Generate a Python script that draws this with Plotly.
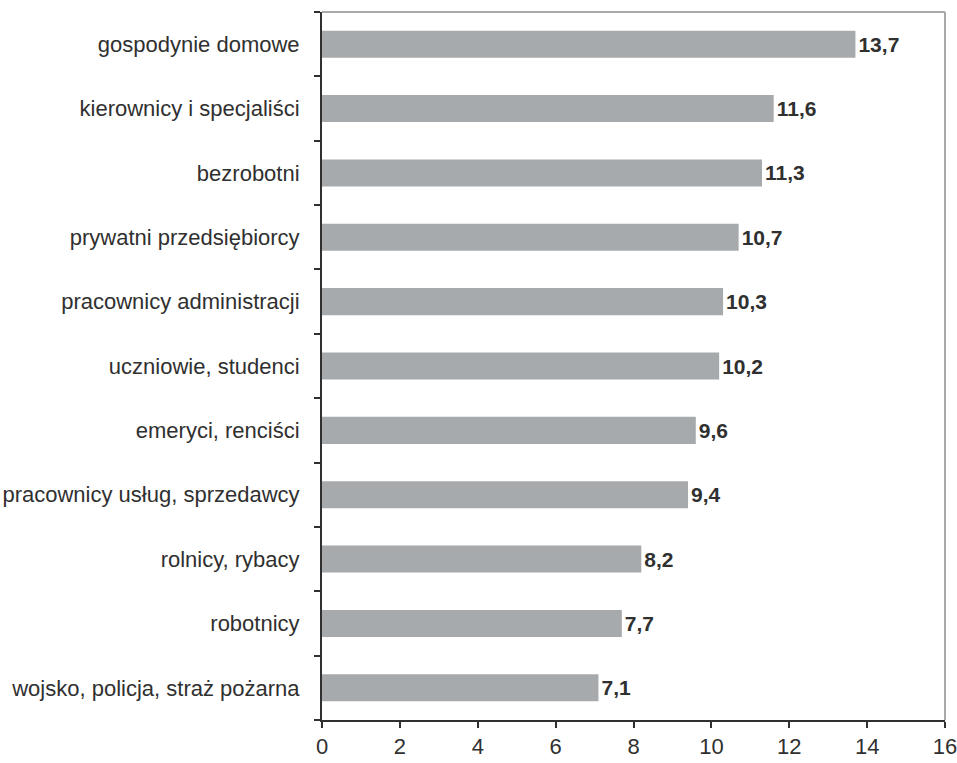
import plotly.graph_objects as go

categories = [
    "wojsko, policja, straż pożarna",
    "robotnicy",
    "rolnicy, rybacy",
    "pracownicy usług, sprzedawcy",
    "emeryci, renciści",
    "uczniowie, studenci",
    "pracownicy administracji",
    "prywatni przedsiębiorcy",
    "bezrobotni",
    "kierownicy i specjaliści",
    "gospodynie domowe",
]
values = [7.1, 7.7, 8.2, 9.4, 9.6, 10.2, 10.3, 10.7, 11.3, 11.6, 13.7]
x_ticks = [0, 2, 4, 6, 8, 10, 12, 14, 16]

labels = [f"{v:.1f}".replace(".", ",") for v in values]

FONT = "Liberation Sans, Arial, sans-serif"
DARK = "#303030"

fig = go.Figure(
    go.Bar(
        y=categories,
        x=values,
        orientation="h",
        marker=dict(color="#a7aaad", line=dict(width=0)),
        text=labels,
        textposition="outside",
        textfont=dict(family=FONT, size=21, color=DARK, weight="bold"),
        constraintext="none",
        cliponaxis=False,
        hoverinfo="skip",
    )
)

fig.update_layout(
    width=957,
    height=763,
    margin=dict(l=322, r=12, t=12, b=43, autoexpand=False),
    plot_bgcolor="white",
    paper_bgcolor="white",
    bargap=0.58,
    showlegend=False,
    font=dict(family=FONT, size=22, color=DARK),
    xaxis=dict(
        range=[0, 16],
        tickvals=x_ticks,
        ticktext=[str(t) for t in x_ticks],
        showgrid=False,
        zeroline=False,
        showline=True,
        linecolor=DARK,
        linewidth=2,
        ticks="outside",
        ticklen=6,
        tickwidth=1.5,
        tickcolor=DARK,
        automargin=False,
        ticklabeloverflow="allow",
        tickfont=dict(family=FONT, size=22, color=DARK),
    ),
    yaxis=dict(
        type="category",
        categoryorder="array",
        categoryarray=categories,
        showgrid=False,
        zeroline=False,
        showline=True,
        linecolor=DARK,
        linewidth=2,
        ticks="outside",
        tickson="boundaries",
        ticklen=6,
        tickwidth=1.5,
        tickcolor=DARK,
        ticklabelstandoff=16,
        automargin=False,
        ticklabeloverflow="allow",
        tickfont=dict(family=FONT, size=22, color=DARK),
    ),
    shapes=[
        dict(type="line", xref="paper", yref="paper", x0=0, x1=1, y0=1, y1=1,
             line=dict(color="#a9a9a9", width=2)),
        dict(type="line", xref="paper", yref="paper", x0=1, x1=1, y0=0, y1=1,
             line=dict(color="#a9a9a9", width=2)),
    ],
)

fig.write_html(
    "out.html",
    config={"displayModeBar": False},
    post_script="document.body.style.margin='0';document.body.style.overflow='hidden';",
)
